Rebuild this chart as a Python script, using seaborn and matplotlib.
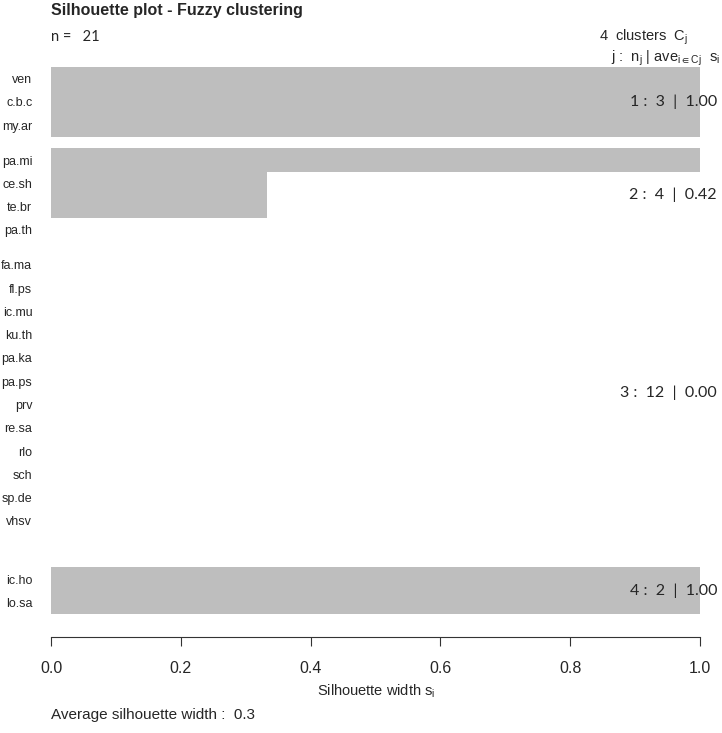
import seaborn as sns
import matplotlib
matplotlib.use("Agg")
import matplotlib.pyplot as plt
import matplotlib.transforms as mtransforms
import numpy as np
import pandas as pd

# silhouette widths per observation, ordered by cluster as in the plot
names = ["ven", "c.b.c", "my.ar",
         "pa.mi", "ce.sh", "te.br", "pa.th",
         "fa.ma", "fl.ps", "ic.mu", "ku.th", "pa.ka", "pa.ps", "prv", "re.sa",
         "rlo", "sch", "sp.de", "vhsv",
         "ic.ho", "lo.sa"]
sil_width = [1.0, 1.0, 1.0,
             1.0, 1/3, 1/3, 0.0,
             0.0, 0.0, 0.0, 0.0, 0.0, 0.0, 0.0, 0.0, 0.0, 0.0, 0.0, 0.0,
             1.0, 1.0]
cluster = [1, 1, 1,
           2, 2, 2, 2,
           3, 3, 3, 3, 3, 3, 3, 3, 3, 3, 3, 3,
           4, 4]
# blank space (in bar heights) before each new cluster
gap_before = {2: 0.5, 3: 0.5, 4: 1.5}

sns.set_style("white")
plt.rcParams["font.family"] = ["Liberation Sans", "DejaVu Sans"]
plt.rcParams["mathtext.fontset"] = "custom"
plt.rcParams["mathtext.rm"] = "Liberation Sans"

# row positions
pos = []
y = 0.0
prev = None
for c in cluster:
    if prev is not None and c != prev:
        y += gap_before[c]
    pos.append(y)
    y += 1
    prev = c

df = pd.DataFrame({"name": names, "s": sil_width, "cluster": cluster, "pos": pos})

W, H = 722, 733
fig = plt.figure(figsize=(W / 100, H / 100), dpi=100)
ax = fig.add_axes([51 / W, (H - 614) / H, (700 - 51) / W, (614 - 67) / H])

sns.barplot(data=df, x="s", y="pos", orient="h", native_scale=True, width=1,
            color="#bebebe", saturation=1, linewidth=0, ax=ax)

ax.set_xlim(0, 1)
ax.set_ylim(df["pos"].max() + 0.5, -0.5)
ax.set_yticks(df["pos"], df["name"])
ax.tick_params(axis="y", length=0, pad=13.5, labelsize=9)
ticks = np.arange(0, 1.01, 0.2)
ax.set_xticks(ticks)
ax.set_xticklabels([f"{v:.1f}" for v in ticks])
ax.tick_params(axis="x", length=6.5, width=0.8, pad=11, labelsize=11.5,
               direction="out", bottom=True, color="#333333")
for side in ["top", "right", "left"]:
    ax.spines[side].set_visible(False)
ax.spines["bottom"].set_position(("outward", 16.5))
ax.spines["bottom"].set_color("#333333")
ax.spines["bottom"].set_linewidth(0.8)
ax.set_xlabel("")
ax.set_ylabel("")

# per-cluster summary on the right
right_tr = mtransforms.blended_transform_factory(fig.transFigure, ax.transData)
for j, grp in df.groupby("cluster"):
    yc = grp["pos"].mean()
    ax.text(717 / W, yc, f"{j} :  {len(grp)}  |  {grp['s'].mean():.2f}",
            transform=right_tr, ha="right", va="center",
            fontsize=11.5, family=["Lato", "DejaVu Sans"])

fig.text(51 / W, 1 - 10 / H, "Silhouette plot - Fuzzy clustering",
         ha="left", va="center", fontsize=11.5, fontweight="bold")
fig.text(51 / W, 1 - 37 / H, f"n =   {len(df)}", ha="left", va="center",
         fontsize=10.5, family=["Lato", "DejaVu Sans"])
fig.text(688 / W, 1 - 37 / H, r"4  clusters  C$_\mathregular{j}$",
         ha="right", va="center", fontsize=10.5)
fig.text(720 / W, 1 - 58 / H,
         r"j :  n$_\mathregular{j}$ | ave$_{\mathregular{i\in Cj}}$  s$_\mathregular{i}$",
         ha="right", va="center", fontsize=10.5)
fig.text(376 / W, 1 - 691 / H, r"Silhouette width s$_\mathregular{i}$",
         ha="center", va="center", fontsize=10.5)
fig.text(51 / W, 1 - 715 / H,
         f"Average silhouette width :  {df['s'].mean():.1f}",
         ha="left", va="center", fontsize=11)

fig.savefig("out.png", dpi=100)
